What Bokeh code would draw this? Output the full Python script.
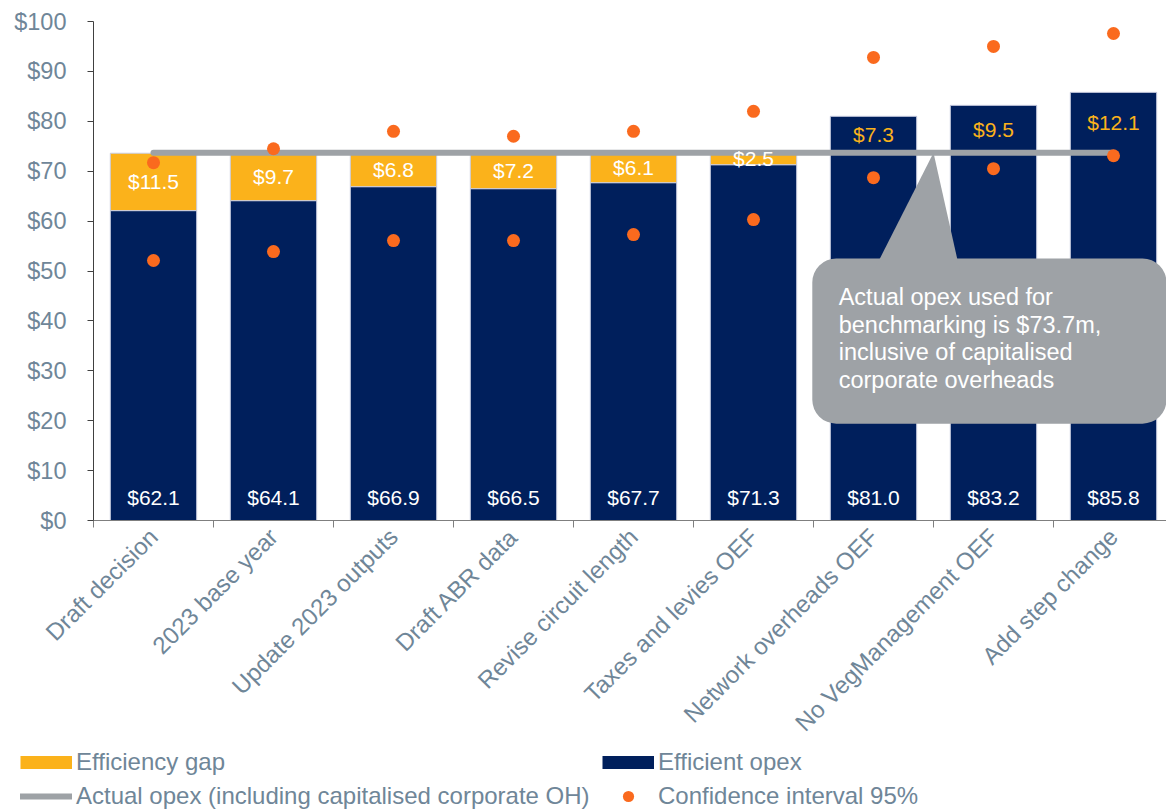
import math
from bokeh.plotting import figure
from bokeh.models import (Range1d, FixedTicker, PrintfTickFormatter,
                          ColumnDataSource, Legend, LegendItem, BoxAnnotation,
                          PolyAnnotation, Label)
from bokeh.core.properties import value
from bokeh.embed import file_html
from bokeh.resources import INLINE

# ---------------- data ----------------
categories = ["Draft decision", "2023 base year", "Update 2023 outputs", "Draft ABR data",
              "Revise circuit length", "Taxes and levies OEF", "Network overheads OEF",
              "No VegManagement OEF", "Add step change"]
efficient_opex = [62.1, 64.1, 66.9, 66.5, 67.7, 71.3, 81.0, 83.2, 85.8]
efficiency_gap = [11.5, 9.7, 6.8, 7.2, 6.1, 2.5, 7.3, 9.5, 12.1]
actual_opex = 73.7
ci_upper = [71.7, 74.5, 78.0, 77.0, 78.0, 82.0, 92.8, 95.0, 97.6]
ci_lower = [52.1, 53.9, 56.1, 56.1, 57.3, 60.3, 68.7, 70.5, 73.1]
y_ticks = list(range(0, 101, 10))
callout_lines = ["Actual opex used for", "benchmarking is $73.7m,",
                 "inclusive of capitalised", "corporate overheads"]
legend_labels = ["Efficiency gap", "Efficient opex",
                 "Actual opex (including capitalised corporate OH)", "Confidence interval 95%"]

# ---------------- style ----------------
FONT = "Liberation Sans"
NAVY = "#001f5c"
AMBER = "#fbb21b"
ORANGE = "#fa6a1e"
GREY = "#9ea2a6"
SLATE = "#6f8698"
BAR_EDGE = "#c9cde0"
NAN = float("nan")

W, H = 1166, 810
PLOT_LEFT, PLOT_TOP, PLOT_BOTTOM = 93, 21, 520   # pixel edges of the data area
n = len(categories)
idx = list(range(n))
px_x = 120.0                                     # pixels per category
px_y = (PLOT_BOTTOM - PLOT_TOP) / 100.0          # pixels per $1
X0 = -0.5 - PLOT_LEFT / px_x
X_END = -0.5 + (W - PLOT_LEFT) / px_x
Y0 = -(H - PLOT_BOTTOM) / px_y
Y1 = 100 + PLOT_TOP / px_y

p = figure(width=W, height=H, min_border=0,
           x_range=Range1d(X0, X_END), y_range=Range1d(Y0, Y1),
           output_backend="svg", toolbar_location=None)
p.outline_line_color = None
p.xgrid.visible = False
p.ygrid.visible = False
p.background_fill_color = "white"
p.border_fill_color = "white"

# efficient opex bars
eff_src = ColumnDataSource(dict(x=idx, top=efficient_opex))
r_eff = p.vbar(x="x", top="top", bottom=0, width=0.72, source=eff_src,
               fill_color=NAVY, line_color=BAR_EDGE, line_width=1)

# efficiency gap bars (only where efficient opex is below actual)
gx, gb, gt = [], [], []
for i, (e, g) in enumerate(zip(efficient_opex, efficiency_gap)):
    if e < actual_opex:
        gx.append(i); gb.append(e); gt.append(e + g)
gap_src = ColumnDataSource(dict(x=gx, bottom=gb, top=gt))
r_gap = p.vbar(x="x", top="top", bottom="bottom", width=0.72, source=gap_src,
               fill_color=AMBER, line_color=BAR_EDGE, line_width=1)

# actual opex line
r_line = p.line(x=[idx[0], idx[-1]], y=[actual_opex, actual_opex],
                line_color=GREY, line_width=6, line_cap="round")

# gap labels
ly, lc, lt = [], [], []
for e, g in zip(efficient_opex, efficiency_gap):
    if e < actual_opex:
        ly.append(e + g / 2); lc.append("white")
    else:
        ly.append((e + actual_opex) / 2); lc.append(AMBER)
    lt.append("$%.1f" % g)
p.text(x="x", y="y", text="t", text_color="c",
       source=ColumnDataSource(dict(x=idx, y=ly, t=lt, c=lc)),
       text_align="center", text_baseline="middle",
       text_font=value(FONT), text_font_size="21px")

# efficient opex labels at the bar base
p.text(x="x", y="y", text="t",
       source=ColumnDataSource(dict(x=idx, y=[0] * n, t=["$%.1f" % v for v in efficient_opex])),
       text_color="white", text_align="center", text_baseline="middle", y_offset=-23,
       text_font=value(FONT), text_font_size="21px")

# confidence interval dots
r_ci = p.scatter(x=idx + idx, y=ci_upper + ci_lower, size=13, marker="circle",
                 fill_color=ORANGE, line_color=None)

# legend-only swatches (flat wide rectangles, no visible data)
sw_gap = p.line(x=[NAN, NAN], y=[NAN, NAN], line_color=AMBER, line_width=13, line_cap="butt")
sw_eff = p.line(x=[NAN, NAN], y=[NAN, NAN], line_color=NAVY, line_width=13, line_cap="butt")

# callout
box_top, box_bottom = 52.5, 19.4
p.add_layout(BoxAnnotation(left=5.49, right=X_END, top=box_top, bottom=box_bottom,
                           fill_color=GREY, fill_alpha=1, line_color=None, border_radius=24))
p.add_layout(PolyAnnotation(xs=[5.99, 6.5, 6.725], ys=[box_top - 3, actual_opex, box_top - 3],
                            fill_color=GREY, fill_alpha=1, line_color=None))
for k, t in enumerate(callout_lines):
    p.add_layout(Label(x=5.71, y=44.7 - k * 5.5, text=t, text_color="white",
                       text_font=FONT, text_font_size="23.5px", text_baseline="alphabetic"))

# axes (fixed inside the canvas so that the legend can sit under them)
p.yaxis.fixed_location = -0.5
p.yaxis.bounds = (0, 100)
p.yaxis.ticker = FixedTicker(ticks=y_ticks)
p.yaxis.formatter = PrintfTickFormatter(format="$%d")
p.yaxis.major_label_text_font = FONT
p.yaxis.major_label_text_font_size = "23.5px"
p.yaxis.major_label_text_color = SLATE
p.yaxis.axis_line_color = "#404040"
p.yaxis.major_tick_line_color = "#404040"
p.yaxis.major_tick_out = 6
p.yaxis.major_tick_in = 0
p.yaxis.minor_tick_line_color = None
p.yaxis.major_label_standoff = 21

p.xaxis.fixed_location = 0
p.xaxis.bounds = (-0.5, X_END)
p.xaxis.ticker = FixedTicker(ticks=idx, minor_ticks=[i - 0.5 for i in range(n + 1)])
p.xaxis.major_label_overrides = {i: c for i, c in enumerate(categories)}
p.xaxis.major_label_orientation = math.pi / 4
p.xaxis.major_label_text_font = FONT
p.xaxis.major_label_text_font_size = "24px"
p.xaxis.major_label_text_color = SLATE
p.xaxis.axis_line_color = "#7f7f7f"
p.xaxis.major_tick_line_color = None
p.xaxis.minor_tick_line_color = "#7f7f7f"
p.xaxis.minor_tick_out = 7
p.xaxis.minor_tick_in = 0
p.xaxis.major_label_standoff = 5

legend = Legend(items=[LegendItem(label=l, renderers=[r], index=0)
                       for l, r in zip(legend_labels, [sw_gap, sw_eff, r_line, r_ci])],
                ncols=2, orientation="horizontal", location=(20, 0),
                glyph_width=52, glyph_height=28, label_standoff=4, label_width=520,
                padding=0, margin=0, spacing=6, border_line_color=None,
                background_fill_alpha=0, label_text_font=FONT,
                label_text_font_size="24px", label_text_color=SLATE)
p.add_layout(legend, "center")

open("out.html", "w").write(file_html(p, INLINE))
